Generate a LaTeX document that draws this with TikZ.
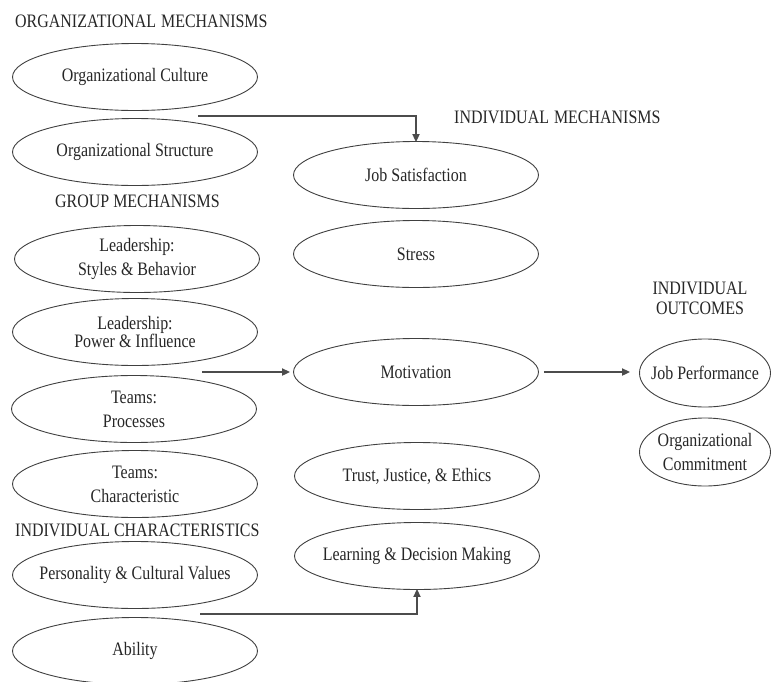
\documentclass[tikz,border=0pt]{standalone}
\usepackage{fontspec}
\setmainfont{Liberation Serif}[FakeStretch=0.84]
\usetikzlibrary{shapes.geometric,arrows.meta}

\begin{document}
\begin{tikzpicture}[x=1pt,y=-1pt,
  lbl/.style={font=\fontsize{19}{24}\selectfont, text=black!85, inner sep=0pt},
  heading/.style={lbl, anchor=west},
  % fixed-size ovals: negative inner sep keeps the text from widening them
  oval/.style={lbl, ellipse, draw=black!75, line width=0.9pt,
    inner xsep=-40pt, inner ysep=-10pt,
    minimum width=245pt, minimum height=67pt, align=center},
  smalloval/.style={oval, minimum width=131pt, minimum height=68pt},
  flow/.style={draw=black!70, line width=2.4pt,
    -{Triangle[length=8pt,width=7pt]}}
]
\useasboundingbox (0,0) rectangle (772,681);

% section headings
\node[heading] (hOrg) at (15,21) {ORGANIZATIONAL\hspace{5pt}MECHANISMS};
\node[heading] (hInd) at (454,117) {INDIVIDUAL\hspace{5pt}MECHANISMS};
\node[heading] (hGrp) at (55,201) {GROUP MECHANISMS};
\node[heading] (hChar) at (15,530) {INDIVIDUAL\hspace{4pt}CHARACTERISTICS};
\node[lbl, align=center, font=\fontsize{19}{20}\selectfont] (hOut) at (700,298)
  {INDIVIDUAL\\OUTCOMES};

% organizational and group mechanisms, individual characteristics
\node[oval] (culture)   at (135,77)  {Organizational Culture};
\node[oval] (structure) at (135,152) {Organizational Structure};
\node[oval] (styles)    at (137,259) {Leadership:\\Styles \& Behavior};
\node[oval] (power)     at (135,332) {Leadership:\\[-6pt]Power \& Influence};
\node[oval] (processes) at (134,409) {Teams:\\Processes};
\node[oval] (teamchar)  at (135,484) {Teams:\\Characteristic};
\node[oval] (persona)   at (135,575) {Personality \& Cultural Values};
\node[oval] (ability)   at (135,651) {Ability};

% individual mechanisms
\node[oval] (jobsat)   at (416,175) {Job Satisfaction};
\node[oval] (stress)   at (416,254) {Stress};
\node[oval] (motiv)    at (416,372) {Motivation};
\node[oval] (trust)    at (417,476) {Trust, Justice, \& Ethics};
\node[oval] (learning) at (417,556) {Learning \& Decision Making};

% individual outcomes
\node[smalloval] (perf)   at (705,373) {Job Performance};
\node[smalloval] (commit) at (705,452) {Organizational\\Commitment};

% connector start points
\coordinate (orgFrom)  at (198,116);
\coordinate (grpFrom)  at (202,372);
\coordinate (charFrom) at (200,614);

% connectors
\draw[flow] (orgFrom) -| ([yshift=-1pt]jobsat.north);
\draw[flow, shorten >=3pt] (grpFrom) -- (motiv.west);
\draw[flow, shorten <=5pt, shorten >=9pt] (motiv.east) -- (motiv.east -| perf.west);
\draw[flow] (charFrom) -| ([yshift=1pt]learning.south);
\end{tikzpicture}
\end{document}
